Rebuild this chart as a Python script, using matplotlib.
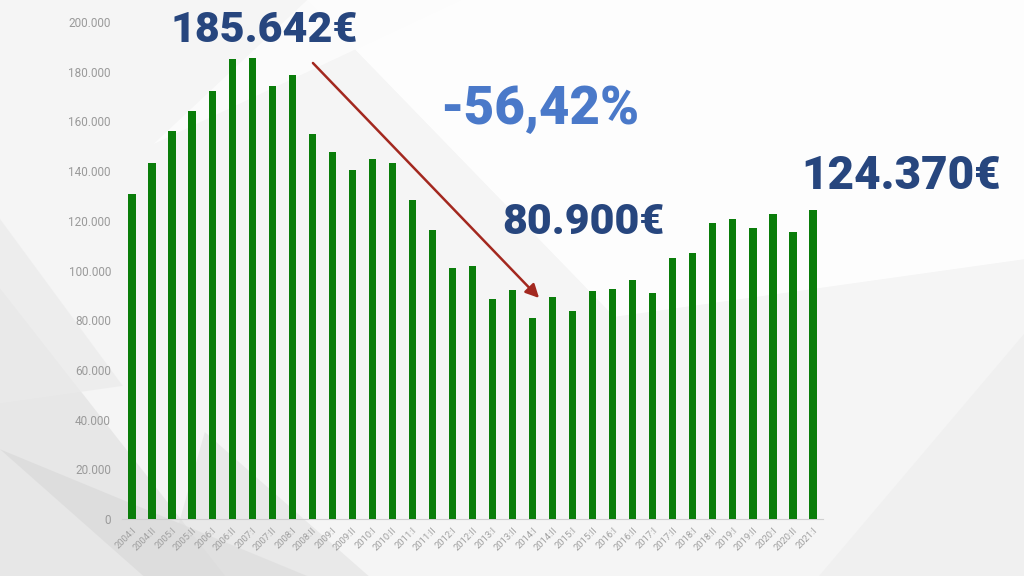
import matplotlib
matplotlib.use("Agg")
import matplotlib.pyplot as plt
from matplotlib.patches import Polygon, FancyArrowPatch

# ---------------- data ----------------
years = list(range(2004, 2022))
periods = []
for y in years:
    periods.append(f"{y}:I")
    if y < 2021:
        periods.append(f"{y}:II")

values = [130660, 143130, 156010, 164180, 172110, 184980, 185642, 174240,
          178670, 154800, 147680, 140560, 144740, 143130, 128240, 116420,
          100880, 101930, 88410, 92270, 80900, 89210, 83700, 91870,
          92550, 96170, 90820, 104910, 107160, 119230, 120600, 117220,
          122730, 115610, 124370]

y_ticks = list(range(0, 200001, 20000))
y_tick_labels = [f"{v:,}".replace(",", ".") for v in y_ticks]

label_peak = "185.642€"
label_low = "80.900€"
label_last = "124.370€"
label_change = "-56,42%"

# ---------------- figure ----------------
fig = plt.figure(figsize=(10.24, 5.76), dpi=100)
fig.patch.set_facecolor("#f5f5f5")

# decorative background layer
bgax = fig.add_axes([0, 0, 1, 1], zorder=-1)
bgax.set_xlim(0, 1)
bgax.set_ylim(0, 1)
bgax.axis("off")
bg = [
    ([(0.3, 1.0), (1.0, 1.0), (1.0, 0.55), (0.6, 0.45)], "#ffffff", 0.9),
    ([(0.15, 0.75), (0.45, 1.0), (0.3, 1.0)], "#fcfcfc", 0.9),
    ([(0, 0), (0, 0.50), (0.22, 0.0)], "#e2e2e2", 0.7),
    ([(0, 0.22), (0.14, 0.0), (0.30, 0.0)], "#d4d4d4", 0.5),
    ([(0.0, 0.62), (0.12, 0.33), (0.0, 0.30)], "#ebebeb", 0.7),
    ([(0.16, 0.0), (0.36, 0.0), (0.20, 0.25)], "#dedede", 0.5),
    ([(0.80, 0.0), (1.0, 0.0), (1.0, 0.42)], "#efefef", 0.8),
]
for pts, col, a in bg:
    bgax.add_patch(Polygon(pts, closed=True, facecolor=col, edgecolor="none",
                           alpha=a))

ax = fig.add_axes([122 / 1024, 57 / 576, 701 / 1024, 497 / 576], zorder=1)
ax.set_facecolor("none")

x = list(range(len(periods)))
ax.bar(x, values, width=0.36, color="#0a7d0a", zorder=3)

ax.set_xlim(-0.5, len(periods) - 0.5)
ax.set_ylim(0, 200000)
ax.set_yticks(y_ticks)
ax.set_yticklabels(y_tick_labels, color="#9a9a9a", fontsize=8.5,
                   family="Roboto")
ax.set_xticks(x)
ax.set_xticklabels(periods, rotation=45, ha="right", va="top",
                   rotation_mode="anchor", color="#a0a0a0", fontsize=6.8,
                   family="Roboto")
ax.tick_params(axis="both", length=0, pad=8)
ax.tick_params(axis="x", pad=5)
for s in ["top", "right", "left"]:
    ax.spines[s].set_visible(False)
ax.spines["bottom"].set_color("#d0d0d0")
ax.spines["bottom"].set_linewidth(0.8)

# ---------------- annotations ----------------
big = dict(family=["Roboto", "DejaVu Sans"], weight="black")
dark_blue = "#27467e"
fig.text(264 / 1024, 1 - 30 / 576, label_peak, color=dark_blue, fontsize=31,
         ha="center", va="center", zorder=5, **big)
fig.text(540 / 1024, 1 - 110 / 576, label_change, color="#4a79c9", fontsize=38,
         ha="center", va="center", zorder=5, **big)
fig.text(583 / 1024, 1 - 223 / 576, label_low, color=dark_blue, fontsize=31,
         ha="center", va="center", zorder=5, **big)
fig.text(901 / 1024, 1 - 176 / 576, label_last, color=dark_blue, fontsize=33,
         ha="center", va="center", zorder=5, **big)

fig.patches.append(FancyArrowPatch(
    (311 / 1024, 1 - 61 / 576), (541 / 1024, 1 - 300 / 576),
    transform=fig.transFigure, arrowstyle="-|>,head_length=8,head_width=4",
    color="#a3281f", linewidth=1.8, zorder=5))

fig.savefig("out.png", dpi=100, facecolor=fig.get_facecolor())
